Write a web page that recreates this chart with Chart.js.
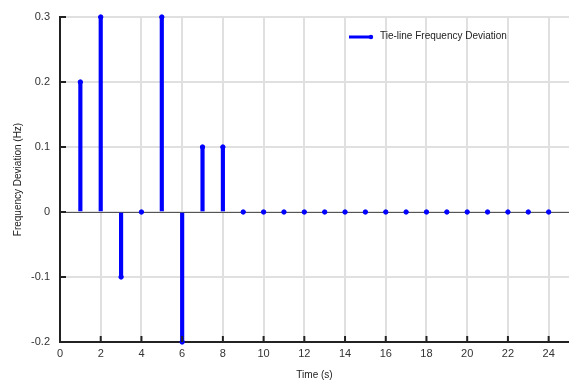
<!DOCTYPE html>
<html>
<head>
<meta charset="utf-8">
<script src="https://cdn.jsdelivr.net/npm/chart.js@4/dist/chart.umd.min.js"></script>
<style>
html,body{margin:0;padding:0;background:#fff;}
#wrap{width:569px;height:383px;position:relative;}
</style>
</head>
<body>
<div id="wrap"><canvas id="c" width="569" height="383"></canvas></div>
<script>
const timeSteps = [1,2,3,4,5,6,7,8,9,10,11,12,13,14,15,16,17,18,19,20,21,22,23,24];
const deviation = [0.2,0.3,-0.1,0,0.3,-0.2,0.1,0.1,0,0,0,0,0,0,0,0,0,0,0,0,0,0,0,0];
const seriesName = 'Tie-line Frequency Deviation';
const xTitle = 'Time (s)';
const yTitle = 'Frequency Deviation (Hz)';

const pts = timeSteps.map((t,i)=>({x:t,y:deviation[i]}));
const FONT = '"Liberation Sans", Arial, sans-serif';
const BLUE = '#0000ff';

const decor = {
  id:'decor',
  beforeDatasetsDraw(chart){
    const {ctx, chartArea:a, scales:{y}} = chart;
    const y0 = Math.round(y.getPixelForValue(0))+0.5;
    ctx.save();
    ctx.strokeStyle='#555';ctx.lineWidth=1;
    ctx.beginPath();ctx.moveTo(a.left,y0);ctx.lineTo(a.right,y0);ctx.stroke();
    ctx.restore();
  },
  afterDraw(chart){
    const {ctx, chartArea:a, scales:{x,y}} = chart;
    ctx.save();
    ctx.strokeStyle='#222';ctx.lineWidth=2;
    x.ticks.forEach(t=>{
      const px=x.getPixelForValue(t.value);
      if(px<=a.left+2) return;
      ctx.beginPath();ctx.moveTo(px,a.bottom);ctx.lineTo(px,a.bottom-6);ctx.stroke();
    });
    y.ticks.forEach(t=>{
      const py=y.getPixelForValue(t.value);
      if(py>=a.bottom-2) return;
      ctx.beginPath();ctx.moveTo(a.left,py);ctx.lineTo(a.left+6,py);ctx.stroke();
    });
    // legend
    const lx=349, ly=37;
    ctx.strokeStyle=BLUE;ctx.lineWidth=3;
    ctx.beginPath();ctx.moveTo(lx,ly);ctx.lineTo(lx+22,ly);ctx.stroke();
    ctx.fillStyle=BLUE;
    ctx.beginPath();ctx.arc(lx+22,ly,2.2,0,Math.PI*2);ctx.fill();
    ctx.fillStyle='#222';ctx.font='10px '+FONT;ctx.textBaseline='middle';ctx.textAlign='left';
    ctx.fillText(seriesName, lx+31, ly-1);
    ctx.restore();
  }
};

new Chart(document.getElementById('c'),{
  type:'bar',
  data:{datasets:[
    {type:'scatter',label:seriesName,data:pts,backgroundColor:BLUE,borderColor:BLUE,pointRadius:2.2,pointStyle:'circle',showLine:false,order:0,clip:false},
    {type:'bar',label:seriesName,data:pts,backgroundColor:BLUE,borderWidth:0,barThickness:3.5,grouped:false,order:1}
  ]},
  options:{
    responsive:false,animation:false,
    layout:{autoPadding:false,padding:{top:17,right:0,left:0,bottom:0}},
    plugins:{legend:{display:false},tooltip:{enabled:false}},
    scales:{
      x:{type:'linear',min:0,max:25,offset:false,
        afterBuildTicks(s){s.ticks=s.ticks.filter(t=>Math.abs(t.value%2)<1e-9);},
        ticks:{stepSize:2,color:'#333',font:{family:FONT,size:11},padding:5,maxRotation:0,autoSkip:false},
        grid:{color:'#e0e0e0',lineWidth:2,drawTicks:false,offset:false},
        border:{color:'#222',width:2},
        title:{display:true,text:xTitle,color:'#222',font:{family:FONT,size:10},padding:{top:4,bottom:2}},
        afterFit(s){s.height=41;s.paddingRight=0;s.paddingLeft=0;}
      },
      y:{type:'linear',min:-0.2,max:0.3,
        ticks:{stepSize:0.1,color:'#333',font:{family:FONT,size:11},padding:10,
          callback:v=>{const r=Math.round(v*10)/10;return r===0?'0':r.toFixed(1);}},
        grid:{color:'#e0e0e0',lineWidth:2,drawTicks:false},
        border:{color:'#222',width:2},
        title:{display:true,text:yTitle,color:'#222',font:{family:FONT,size:10},padding:{top:12,bottom:12}},
        afterFit(s){s.width=60;s.paddingTop=0;s.paddingBottom=0;}
      }
    }
  },
  plugins:[decor]
});
</script>
</body>
</html>
